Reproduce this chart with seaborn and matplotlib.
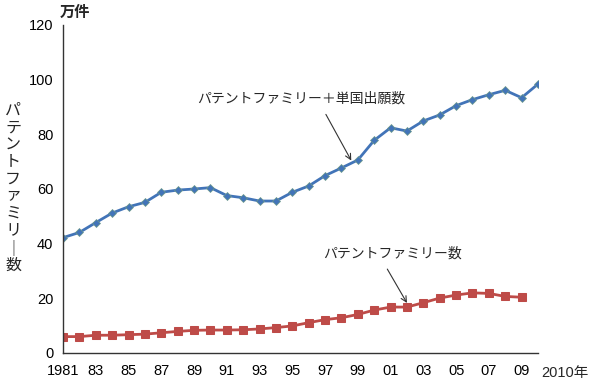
import numpy as np
import pandas as pd
import seaborn as sns
import matplotlib.pyplot as plt

# Values (万件)
years_total = list(range(1981, 2011))
total = [42.2, 44.1, 47.7, 51.2, 53.5, 55.1, 58.8, 59.6, 60.0, 60.5,
         57.6, 56.8, 55.6, 55.6, 58.8, 61.1, 64.9, 67.7, 70.6, 77.8,
         82.4, 81.2, 84.9, 87.1, 90.5, 92.7, 94.5, 96.1, 93.4, 98.4]
years_family = list(range(1981, 2010))
family = [6.0, 6.0, 6.5, 6.5, 6.7, 6.9, 7.4, 7.9, 8.3, 8.4,
          8.4, 8.5, 8.8, 9.3, 9.9, 11.1, 12.2, 12.9, 14.1, 15.7,
          16.8, 16.8, 18.4, 20.1, 21.2, 22.0, 21.8, 20.7, 20.4]
year_labels = ['1981', '', '83', '', '85', '', '87', '', '89', '',
               '91', '', '93', '', '95', '', '97', '', '99', '',
               '01', '', '03', '', '05', '', '07', '', '09', '']
y_ticks = [0, 20, 40, 60, 80, 100, 120]

df_total = pd.DataFrame({'year': years_total, 'value': total})
df_family = pd.DataFrame({'year': years_family, 'value': family})

sns.set_style('white')
plt.rcParams['font.family'] = ['Liberation Sans', 'Noto Sans CJK JP']

fig = plt.figure(figsize=(6, 3.91), dpi=100)
ax = fig.add_axes([63 / 600, 1 - 353 / 391, (538 - 63) / 600, (353 - 25) / 391])

blue = '#4274b8'
red = '#be4b48'
sns.lineplot(data=df_total, x='year', y='value', ax=ax, color=blue, linewidth=2,
             marker='D', markersize=4.5, markeredgecolor='#6f9a8a', markeredgewidth=0.5)
sns.lineplot(data=df_family, x='year', y='value', ax=ax, color=red, linewidth=2,
             marker='s', markersize=5.5, markeredgecolor=red)

ax.set_xlim(1981, 2010)
ax.set_ylim(0, 120)
ax.set_xticks(years_total)
ax.set_xticklabels(year_labels)
ax.set_yticks(y_ticks)
ax.tick_params(axis='both', direction='in', length=4, width=1, color='#333333',
               labelsize=10.5, labelcolor='black')
ax.tick_params(axis='x', pad=8)
ax.tick_params(axis='y', pad=7)
ax.set_xlabel('')
ax.set_ylabel('')
for s in ['top', 'right']:
    ax.spines[s].set_visible(False)
for s in ['left', 'bottom']:
    ax.spines[s].set_color('#333333')
    ax.spines[s].set_linewidth(1)

# 2010 label to the right of the last tick
ax.text(1.006, -0.06, '2010年', transform=ax.transAxes, ha='left', va='center',
        fontsize=10.5)
# unit
fig.text(75 / 600, 1 - 13 / 391, '万件', ha='center', va='center', fontsize=11,
         fontweight='bold')
# vertical y label
fig.text(13 / 600, 1 - 188 / 391, '\n'.join('パテントファミリ｜数'), ha='center',
         va='center', fontsize=11.5, linespacing=1.17)

# annotations
ax.text(1989.2, 93, 'パテントファミリー＋単国出願数', fontsize=10, ha='left', va='center')
ax.annotate('', xy=(1998.6, 70.4), xytext=(1997.05, 87.3),
            arrowprops=dict(arrowstyle='->', color='#333333', lw=0.8, shrinkA=0, shrinkB=0))
ax.text(1996.9, 36.5, 'パテントファミリー数', fontsize=10, ha='left', va='center')
ax.annotate('', xy=(2002.0, 18.3), xytext=(2000.8, 30.7),
            arrowprops=dict(arrowstyle='->', color='#333333', lw=0.8, shrinkA=0, shrinkB=0))

fig.savefig('out.png', dpi=100)
